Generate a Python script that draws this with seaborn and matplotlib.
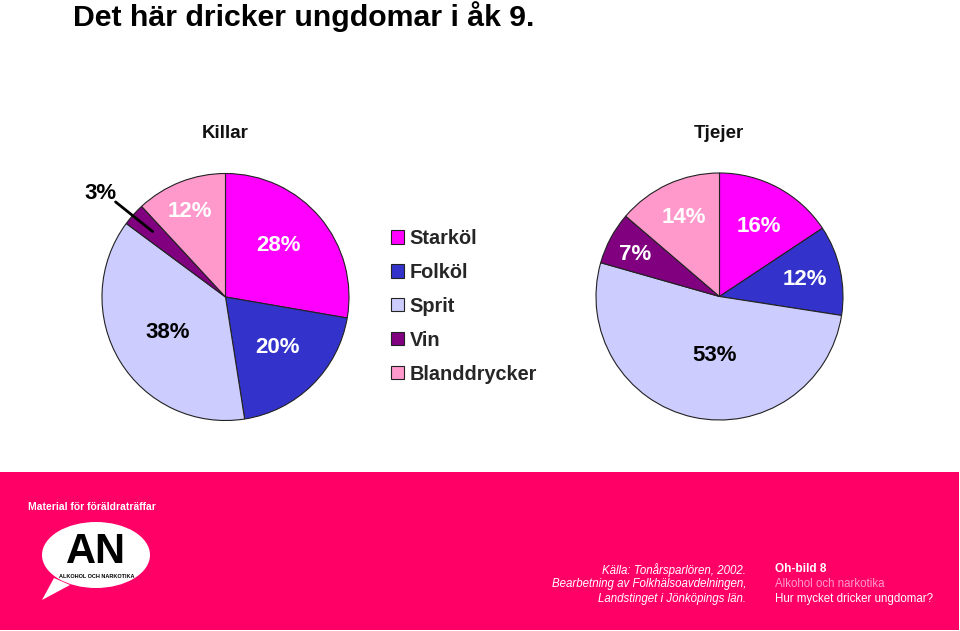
import matplotlib
matplotlib.use("Agg")
import matplotlib.pyplot as plt
from matplotlib.patches import Rectangle, Ellipse, Polygon
import seaborn as sns

# ---------------- data ----------------
categories = ["Starköl", "Folköl", "Sprit", "Vin", "Blanddrycker"]
killar = [28, 20, 38, 3, 12]
tjejer = [16, 12, 53, 7, 14]
groups = ["Killar", "Tjejer"]
title = "Det här dricker ungdomar i åk 9."

colors = sns.color_palette(["#FF00FF", "#3333CC", "#CCCCFF", "#800080", "#FF99CC"])
label_colors_k = ["white", "white", "black", "black", "white"]
label_colors_t = ["white", "white", "black", "white", "white"]

sns.set_theme(style="white")
plt.rcParams["font.family"] = ["Liberation Sans", "DejaVu Sans"]

W, H = 960, 631
fig = plt.figure(figsize=(W / 100, H / 100), dpi=100)
fig.patch.set_facecolor("white")

# overlay axes in pixel units for decoration
deco = fig.add_axes([0, 0, 1, 1], zorder=0)
deco.set_xlim(0, W)
deco.set_ylim(H, 0)
deco.axis("off")

def fx(x):
    return x / W

def fy(y):
    return 1 - y / H

# ---------------- pies ----------------
R = 124
def pie_axes(cx, cy):
    ax = fig.add_axes([fx(cx - R), fy(cy + R), 2 * R / W, 2 * R / H], zorder=2)
    return ax

ax1 = pie_axes(225.5, 297)
ax2 = pie_axes(719.5, 296.5)

wedges1, _ = ax1.pie(killar, colors=colors, startangle=90, counterclock=False,
                     radius=1, wedgeprops=dict(edgecolor="#222222", linewidth=0.8))
wedges2, _ = ax2.pie(tjejer, colors=colors, startangle=90, counterclock=False,
                     radius=1, wedgeprops=dict(edgecolor="#222222", linewidth=0.8))
for ax in (ax1, ax2):
    ax.set_xlim(-1.004, 1.004)
    ax.set_ylim(-1.004, 1.004)
    ax.axis("off")

pos_k = [(0.43, 0.42), (0.42, -0.41), (-0.47, -0.29), (-1.01, 0.84), (-0.29, 0.69)]
pos_t = [(0.32, 0.57), (0.69, 0.14), (-0.04, -0.48), (-0.68, 0.34), (-0.29, 0.64)]
for v, (x, y), c in zip(killar, pos_k, label_colors_k):
    ax1.text(x, y, f"{v}%", ha="center", va="center", fontsize=16,
             fontweight="bold", color=c, clip_on=False)
for v, (x, y), c in zip(tjejer, pos_t, label_colors_t):
    ax2.text(x, y, f"{v}%", ha="center", va="center", fontsize=16,
             fontweight="bold", color=c, clip_on=False)
# leader line for the small slice
ax1.plot([-0.89, -0.59], [0.77, 0.53], color="black", lw=2, clip_on=False)

# group headings
for g, cx in zip(groups, [225, 719]):
    fig.text(fx(cx), fy(133), g, ha="center", va="center", fontsize=13.5,
             fontweight="bold", color="#111111")

# legend
leg = fig.legend(wedges1, categories, loc="upper left",
                 bbox_to_anchor=(fx(391), fy(229)), frameon=False,
                 handlelength=0.65, handleheight=0.65,
                 handletextpad=0.3, labelspacing=0.75, borderaxespad=0,
                 borderpad=0, prop=dict(weight="bold", size=14.3))

# title
fig.text(fx(73), fy(1), title, ha="left", va="top", fontsize=21.8,
         fontweight="bold", color="black")

# ---------------- bottom band ----------------
deco.add_patch(Rectangle((0, 472), 959, 158, facecolor="#FF0066", edgecolor="none"))
deco.text(28, 507, "Material för föräldraträffar", color="white", fontsize=7.5,
          fontweight="bold", ha="left", va="center")
deco.add_patch(Ellipse((96, 555), 108, 66, facecolor="white", edgecolor="none"))
deco.add_patch(Polygon([(54, 578), (42, 600), (70, 585)], closed=True,
                       facecolor="white", edgecolor="none"))
deco.text(96, 552, "AN", color="black", fontsize=30, fontweight="bold",
          ha="center", va="center")
deco.text(97, 576, "ALKOHOL OCH NARKOTIKA", color="black", fontsize=4,
          fontweight="bold", ha="center", va="center")

src = ["Källa: Tonårsparlören, 2002.", "Bearbetning av Folkhälsoavdelningen,",
       "Landstinget i Jönköpings län."]
for i, s in enumerate(src):
    deco.text(746, 570 + i * 14.5, s, color="white", fontsize=8.3, style="italic",
              ha="right", va="center")
deco.text(775, 569, "Oh-bild 8", color="white", fontsize=8.5, fontweight="bold",
          ha="left", va="center")
deco.text(775, 584, "Alkohol och narkotika", color="#FF99CC", fontsize=8.3,
          ha="left", va="center")
deco.text(775, 599, "Hur mycket dricker ungdomar?", color="white", fontsize=8.3,
          ha="left", va="center")

fig.savefig("out.png", dpi=100, facecolor="white")
